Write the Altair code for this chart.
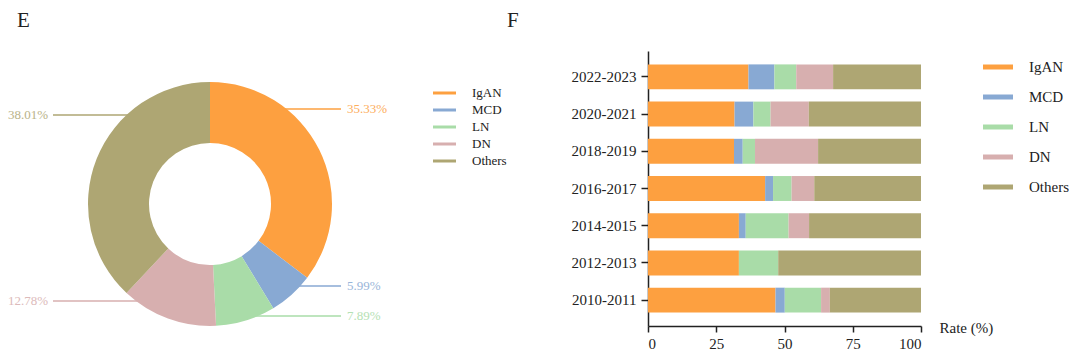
import altair as alt
import pandas as pd

FONT = "Liberation Serif"
INK = "#222222"

# ---------------- data ----------------
categories = ["IgAN", "MCD", "LN", "DN", "Others"]
colors = ["#FDA040", "#88A9D3", "#A9DCA8", "#D7AFAF", "#AEA673"]

overall_pct = [35.33, 5.99, 7.89, 12.78, 38.01]
overall_labels = ["35.33%", "5.99%", "7.89%", "12.78%", "38.01%"]

years = ["2010-2011", "2012-2013", "2014-2015", "2016-2017",
         "2018-2019", "2020-2021", "2022-2023"]
igan = [46.7, 33.3, 33.3, 42.9, 31.5, 31.7, 36.8]
mcd = [3.4, 0.0, 2.5, 2.9, 3.2, 6.9, 9.5]
ln = [13.3, 14.4, 15.7, 6.8, 4.5, 6.3, 8.0]
dn = [3.2, 0.0, 7.5, 8.3, 23.1, 14.0, 13.5]
others = [33.4, 52.3, 41.0, 39.1, 37.7, 41.1, 32.2]

x_ticks = [0, 25, 50, 75, 100]
x_title = "Rate (%)"
panel_letters = ["E", "F"]

# ---------------- layout (pixels) ----------------
CX, CY, R_OUT, R_IN = 202, 153, 122, 61
TOP = -42  # top of the drawing relative to the plot origins
lead = {
    "IgAN":   dict(x1=242, x2=333, y=58,  tx=339),
    "MCD":    dict(x1=282, x2=333, y=235, tx=339),
    "LN":     dict(x1=232, x2=333, y=265, tx=339),
    "DN":     dict(x1=45,  x2=152, y=250, tx=0),
    "Others": dict(x1=45,  x2=132, y=64,  tx=0),
}
LEG1_X1, LEG1_X2, LEG1_TX, LEG1_Y0, LEG1_DY = 425, 448, 464, 42, 17
LEG2_X1, LEG2_X2, LEG2_TX, LEG2_Y0, LEG2_DY = 335, 365, 381, 16, 30

color_scale = alt.Scale(domain=categories, range=colors)


def top_pad():
    return alt.Chart(pd.DataFrame({"t": ["."]})).mark_text(
        opacity=0, baseline="top", align="left", fontSize=12
    ).encode(x=alt.value(2), y=alt.value(TOP), text="t:N")


# ---------------- left panel: donut ----------------
pie_df = pd.DataFrame({"cat": categories, "pct": overall_pct,
                       "label": overall_labels, "idx": range(len(categories))})
lead_df = pd.DataFrame([dict(cat=c, label=l, **lead[c]) for c, l in zip(categories, overall_labels)])

arcs = alt.Chart(pie_df).mark_arc(innerRadius=R_IN, outerRadius=R_OUT).encode(
    theta=alt.Theta("pct:Q", stack=True),
    color=alt.Color("cat:N", scale=color_scale, legend=None),
    order=alt.Order("idx:Q"),
    x=alt.value(CX), y=alt.value(CY),
)

lead_rules = alt.Chart(lead_df).mark_rule(strokeWidth=1.3).encode(
    x=alt.X("x1:Q", scale=None), x2="x2:Q",
    y=alt.Y("y:Q", scale=None),
    color=alt.Color("cat:N", scale=color_scale, legend=None),
)

lead_text = alt.Chart(lead_df).mark_text(
    font=FONT, fontSize=13, align="left", baseline="middle", opacity=0.85
).encode(
    x=alt.X("tx:Q", scale=None), y=alt.Y("y:Q", scale=None),
    text="label:N",
    color=alt.Color("cat:N", scale=color_scale, legend=None),
)

leg1_df = pd.DataFrame({"cat": categories,
                        "y": [LEG1_Y0 + i * LEG1_DY for i in range(len(categories))]})
leg1_rules = alt.Chart(leg1_df).mark_rule(strokeWidth=3).encode(
    x=alt.value(LEG1_X1), x2=alt.value(LEG1_X2),
    y=alt.Y("y:Q", scale=None),
    color=alt.Color("cat:N", scale=color_scale, legend=None),
)
leg1_text = alt.Chart(leg1_df).mark_text(
    font=FONT, fontSize=13, align="left", baseline="middle", color=INK
).encode(x=alt.value(LEG1_TX), y=alt.Y("y:Q", scale=None), text="cat:N")

letters_df = pd.DataFrame({"t": panel_letters, "x": [9, 499]})
letters = alt.Chart(letters_df).mark_text(
    font=FONT, fontSize=21, align="left", baseline="alphabetic", color=INK
).encode(x=alt.X("x:Q", scale=None), y=alt.value(-24), text="t:N")

left = alt.layer(lead_rules, arcs, lead_text, leg1_rules, leg1_text, letters, top_pad()).properties(
    width=500, height=275
)

# ---------------- right panel: stacked bars ----------------
rows = []
for i, y in enumerate(years):
    for j, (c, vals) in enumerate(zip(categories, [igan, mcd, ln, dn, others])):
        rows.append({"year": y, "cat": c, "value": vals[i], "idx": j})
bar_df = pd.DataFrame(rows)

axis_common = dict(
    domainColor=INK, domainWidth=1.5, tickColor=INK, tickWidth=1.5,
    labelFont=FONT, labelFontSize=15, labelColor=INK, grid=False,
)

bars = alt.Chart(bar_df).mark_bar().encode(
    x=alt.X("value:Q", stack="zero",
            scale=alt.Scale(domain=[0, 100], nice=False),
            axis=alt.Axis(values=x_ticks, tickSize=6, labelPadding=4,
                          title=x_title, titleFont=FONT, titleFontSize=15,
                          titleFontWeight="normal", titleColor=INK,
                          titleX=291, titleY=1, titleAlign="left",
                          titleBaseline="middle", **axis_common)),
    y=alt.Y("year:N", sort=years[::-1],
            scale=alt.Scale(paddingInner=0.33, paddingOuter=0.36),
            axis=alt.Axis(title=None, tickSize=7, labelPadding=5, **axis_common)),
    color=alt.Color("cat:N", scale=color_scale, legend=None),
    order=alt.Order("idx:Q"),
)

leg2_df = pd.DataFrame({"cat": categories,
                        "ly": [LEG2_Y0 + i * LEG2_DY for i in range(len(categories))]})
leg2_rules = alt.Chart(leg2_df).mark_rule(strokeWidth=5).encode(
    x=alt.value(LEG2_X1), x2=alt.value(LEG2_X2),
    y=alt.Y("ly:Q", scale=None, axis=None),
    color=alt.Color("cat:N", scale=color_scale, legend=None),
)
leg2_text = alt.Chart(leg2_df).mark_text(
    font=FONT, fontSize=15, align="left", baseline="middle", color=INK
).encode(x=alt.value(LEG2_TX), y=alt.Y("ly:Q", scale=None, axis=None), text="cat:N")

right = alt.layer(bars, leg2_rules, leg2_text, top_pad()).resolve_scale(
    x="independent", y="independent"
).properties(width=273, height=275)

chart = alt.hconcat(left, right, spacing=52).properties(padding=0).configure_view(stroke=None)

chart.save("out.html", embed_options={"renderer": "svg", "actions": False})
